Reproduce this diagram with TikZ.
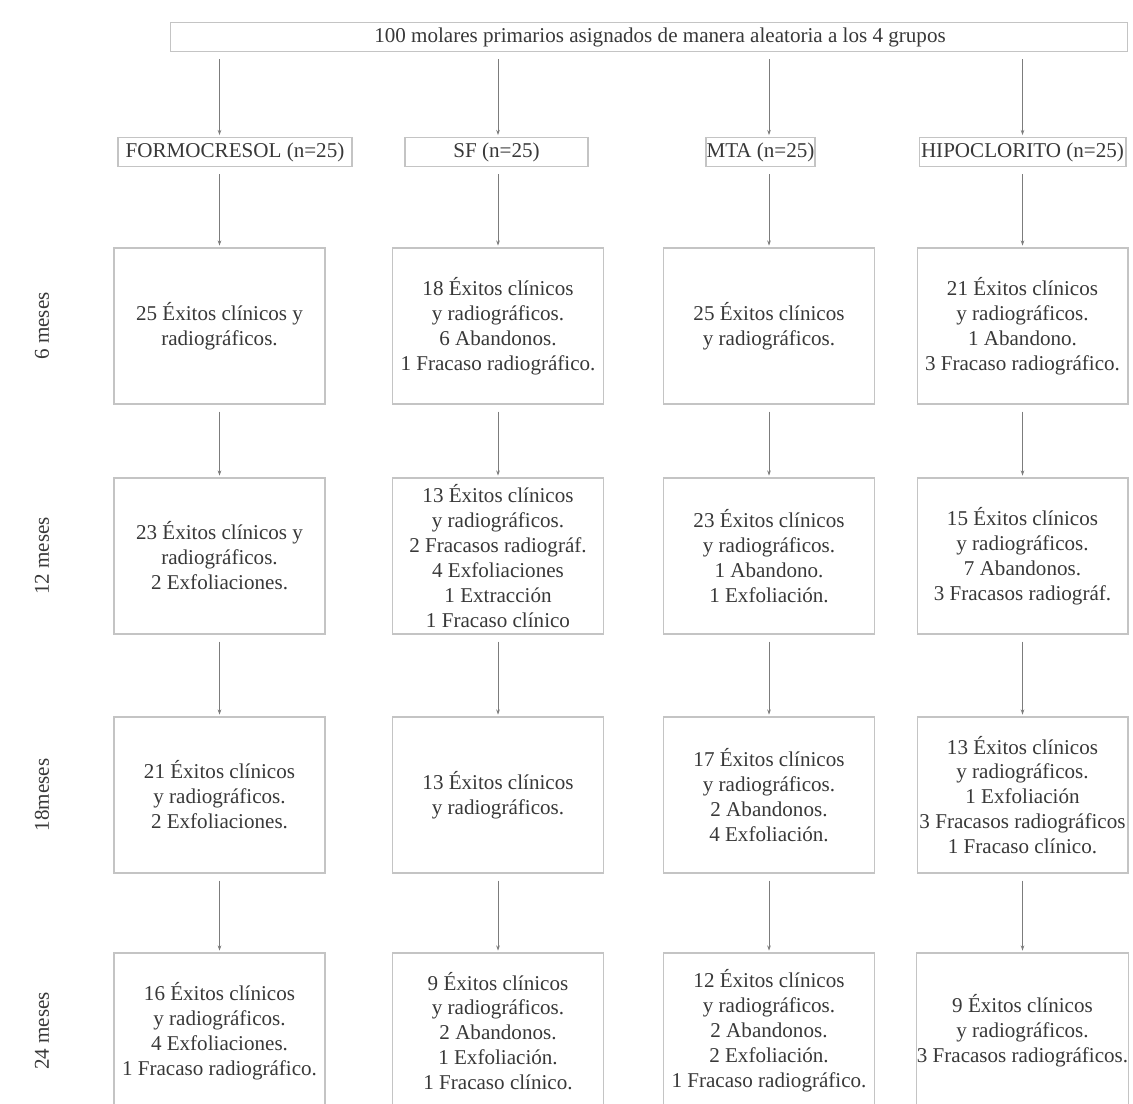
\documentclass[tikz,border=0pt]{standalone}
\usepackage{fontspec}
\setmainfont{Liberation Serif}
\usetikzlibrary{arrows.meta}
\definecolor{boxgray}{HTML}{C4C4C4}
\definecolor{arrgray}{HTML}{7C7C7C}
\definecolor{txtgray}{HTML}{383838}

\begin{document}
\begin{tikzpicture}[x=0.02cm,y=-0.02cm,
	every node/.style={text=txtgray,font=\fontsize{12}{14.2}\selectfont},
	cell/.style={draw=boxgray,line width=0.6pt,minimum width=4.22cm,minimum height=3.12cm,inner sep=0pt,align=center},
	grp/.style={draw=boxgray,line width=0.6pt,minimum height=0.58cm,inner sep=0pt},
	arr/.style={draw=arrgray,line width=0.5pt,-{Stealth[length=3pt,width=2pt]},shorten <=4pt,shorten >=1pt}]
	\useasboundingbox (0,0) rectangle (1133,1104);
	% top box and groups
	\node[grp,minimum width=19.16cm] (top) at (649,37) {\hspace*{0.44cm}100 molares primarios asignados de manera aleatoria a los 4 grupos};
	\node[grp,minimum width=4.68cm] (g1) at (235,152) {FORMOCRESOL (n=25)};
	\node[grp,minimum width=3.66cm] (g2) at (496.5,152) {SF (n=25)};
	\node[grp,minimum width=2.18cm] (g3) at (760.5,152) {MTA (n=25)};
	\node[grp,minimum width=4.14cm] (g4) at (1022.5,152) {HIPOCLORITO (n=25)};
	% 6 meses
	\node[cell] (r1c1) at (219.5,326) {25 Éxitos clínicos y\\radiográficos.};
	\node[cell] (r1c2) at (498,326) {18 Éxitos clínicos\\y radiográficos.\\6 Abandonos.\\1 Fracaso radiográfico.};
	\node[cell] (r1c3) at (769,326) {25 Éxitos clínicos\\y radiográficos.};
	\node[cell] (r1c4) at (1022.5,326) {21 Éxitos clínicos\\y radiográficos.\\1 Abandono.\\3 Fracaso radiográfico.};
	% 12 meses
	\node[cell] (r2c1) at (219.5,556) {23 Éxitos clínicos y\\radiográficos.\\2 Exfoliaciones.};
	\node[cell] (r2c2) at (498,556) {13 Éxitos clínicos\\y radiográficos.\\2 Fracasos radiográf.\\4 Exfoliaciones\\1 Extracción\\1 Fracaso clínico};
	\node[cell] (r2c3) at (769,556) {23 Éxitos clínicos\\y radiográficos.\\1 Abandono.\\1 Exfoliación.};
	\node[cell] (r2c4) at (1022.5,556) {15 Éxitos clínicos\\y radiográficos.\\7 Abandonos.\\3 Fracasos radiográf.};
	% 18 meses
	\node[cell] (r3c1) at (219.5,795) {21 Éxitos clínicos\\y radiográficos.\\2 Exfoliaciones.};
	\node[cell] (r3c2) at (498,795) {13 Éxitos clínicos\\y radiográficos.};
	\node[cell] (r3c3) at (769,795) {17 Éxitos clínicos\\y radiográficos.\\2 Abandonos.\\4 Exfoliación.};
	\node[cell] (r3c4) at (1022.5,795) {13 Éxitos clínicos\\y radiográficos.\\1 Exfoliación\\3 Fracasos radiográficos\\1 Fracaso clínico.};
	% 24 meses
	\node[cell] (r4c1) at (219.5,1031) {16 Éxitos clínicos\\y radiográficos.\\4 Exfoliaciones.\\1 Fracaso radiográfico.};
	\node[cell] (r4c2) at (498,1031) {9 Éxitos clínicos\\y radiográficos.\\2 Abandonos.\\1 Exfoliación.\\1 Fracaso clínico.};
	\node[cell] (r4c3) at (769,1031) {12 Éxitos clínicos\\y radiográficos.\\2 Abandonos.\\2 Exfoliación.\\1 Fracaso radiográfico.};
	\node[cell] (r4c4) at (1022.5,1031) {9 Éxitos clínicos\\y radiográficos.\\3 Fracasos radiográficos.};
	% row labels
	\foreach \row/\txt in {1/6 meses,2/12 meses,3/18meses,4/24 meses}
		\node[rotate=90] (lab\row) at (42,0 |- r\row c1) {\txt};
	% arrows
	\foreach \col in {1,...,4} {
		\draw[arr] (top.south -| r1c\col) -- (g\col.north -| r1c\col);
		\draw[arr] (g\col.south -| r1c\col) -- (r1c\col.north);
		\foreach \row/\nxt in {1/2,2/3,3/4}
			\draw[arr] (r\row c\col.south) -- (r\nxt c\col.north);
	}
\end{tikzpicture}
\end{document}
